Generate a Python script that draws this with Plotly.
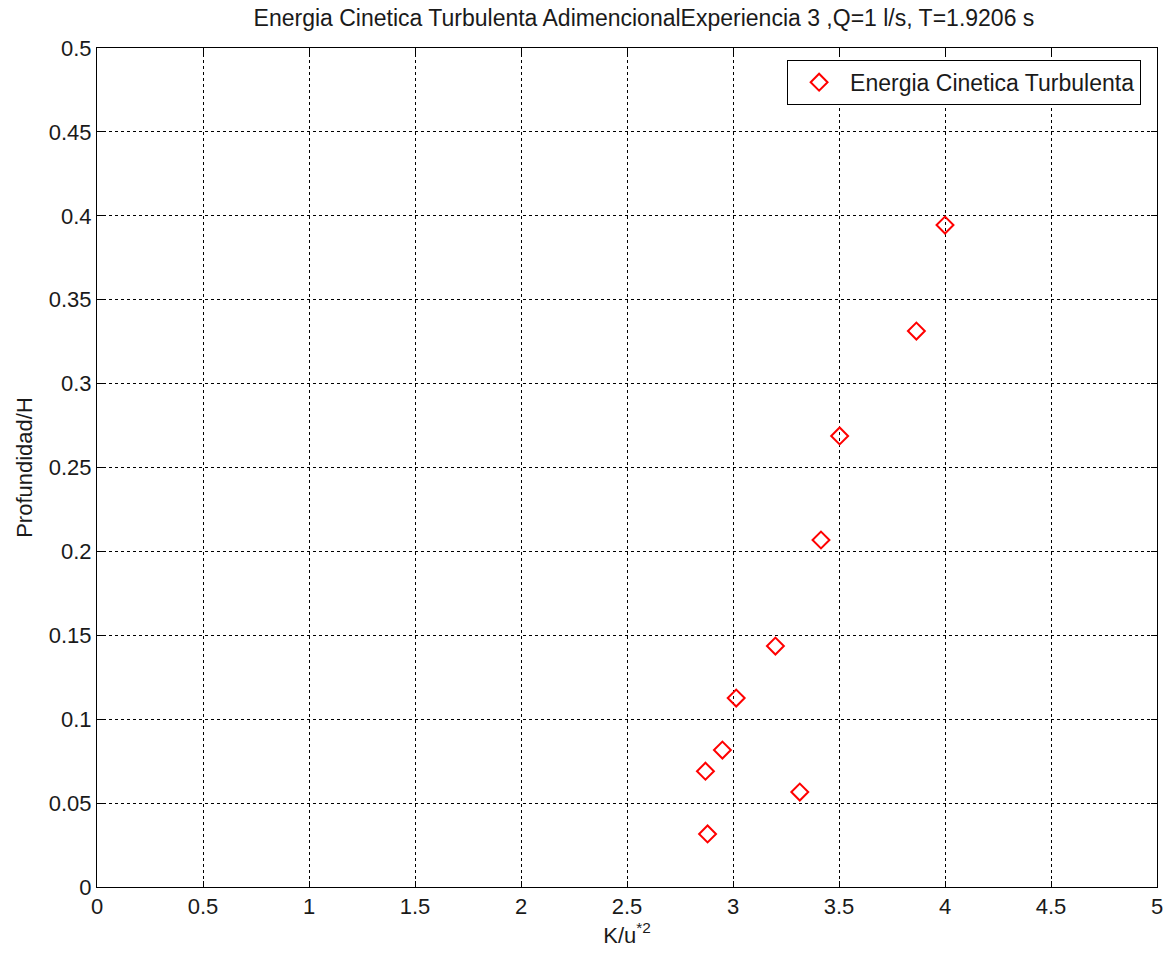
import plotly.graph_objects as go

k_norm = [2.88, 3.315, 2.87, 2.95, 3.015, 3.20, 3.415, 3.503, 3.865, 4.00]
depth = [0.0316, 0.0566, 0.069, 0.0816, 0.1126, 0.1436, 0.2068, 0.2688, 0.3313, 0.3945]

x_ticks = [0, 0.5, 1, 1.5, 2, 2.5, 3, 3.5, 4, 4.5, 5]
y_ticks = [0, 0.05, 0.1, 0.15, 0.2, 0.25, 0.3, 0.35, 0.4, 0.45, 0.5]

font = "Liberation Sans, Arial, sans-serif"
txt = "#1a1a1a"

fig = go.Figure()
fig.add_trace(go.Scatter(
    x=k_norm, y=depth, mode="markers",
    name="Energia Cinetica Turbulenta",
    marker=dict(symbol="diamond-open", size=13, color="red",
                line=dict(color="red", width=2)),
))

axis_common = dict(
    showline=True, linecolor="black", linewidth=1, mirror="ticks",
    ticks="inside", ticklen=6, tickcolor="black",
    showgrid=True, gridcolor="black", griddash="dot", gridwidth=1,
    zeroline=False, tickfont=dict(size=22, color=txt, family=font),
)

fig.update_xaxes(range=[0, 5], tickvals=x_ticks, ticktext=[f"{v:g}" for v in x_ticks],
                 title=dict(text="K/u<sup>*2</sup>", font=dict(size=22, color=txt, family=font), standoff=6),
                 **axis_common)
fig.update_yaxes(range=[0, 0.5], tickvals=y_ticks, ticktext=[f"{v:g}" for v in y_ticks],
                 title=dict(text="Profundidad/H", font=dict(size=22, color=txt, family=font), standoff=10),
                 **axis_common)

fig.update_layout(
    width=1173, height=956,
    margin=dict(l=97, r=10, t=48, b=69),
    paper_bgcolor="white", plot_bgcolor="white",
    font=dict(family=font, size=22, color=txt),
    title=dict(text="Energia Cinetica Turbulenta AdimencionalExperiencia 3 ,Q=1 l/s, T=1.9206 s",
               x=0.516, xref="paper", xanchor="center", y=0.981, yanchor="middle",
               font=dict(size=23, color=txt, family=font)),
    showlegend=True,
    legend=dict(x=0.985, y=0.986, xanchor="right", yanchor="top",
                bgcolor="white", bordercolor="black", borderwidth=1,
                itemwidth=52,
                font=dict(size=23, color=txt, family=font)),
)

fig.write_html("out.html")
